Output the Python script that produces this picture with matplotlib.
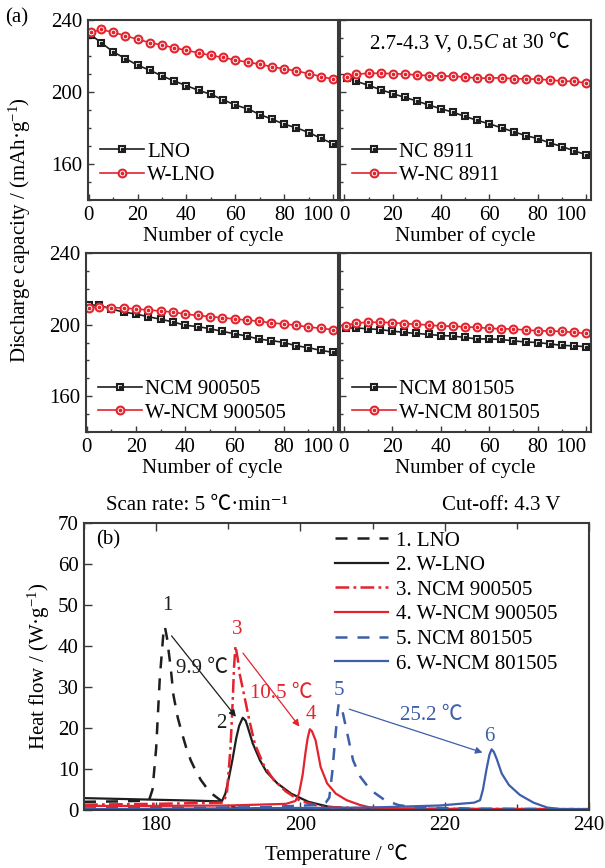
import matplotlib
matplotlib.use('Agg')
import matplotlib.pyplot as plt
from matplotlib.ticker import MultipleLocator
from matplotlib.legend_handler import HandlerTuple

FAM = ['Liberation Serif', 'Noto Sans CJK SC', 'DejaVu Serif']
plt.rcParams['font.family'] = FAM
plt.rcParams['mathtext.fontset'] = 'custom'
plt.rcParams['mathtext.rm'] = 'Liberation Serif'
plt.rcParams['mathtext.it'] = 'Liberation Serif:italic'

# ---------------- data: cycling (a) ----------------
cycles = [1, 5, 10, 15, 20, 25, 30, 35, 40, 45, 50, 55, 60, 65, 70, 75, 80, 85, 90, 95, 100]
lno = [231.6, 227.5, 222.3, 218.6, 214.9, 212.1, 208.9, 206.1, 203.5, 200.9, 198.7,
       195.7, 192.7, 190.7, 187.5, 184.9, 182.1, 180.1, 177.5, 174.3, 171.2]
w_lno = [233.1, 234.8, 233.1, 231.3, 229.2, 227.5, 226.0, 224.6, 223.1, 221.8, 220.3,
         219.2, 217.7, 216.6, 215.4, 214.0, 212.8, 211.7, 210.2, 208.6, 207.1]
nc8911 = [208.0, 205.9, 203.7, 201.3, 199.1, 197.0, 195.0, 192.7, 190.7, 188.7, 186.4,
          184.2, 182.3, 180.1, 177.9, 175.8, 174.1, 171.7, 169.7, 167.3, 165.2]
w_nc8911 = [208.4, 209.9, 210.4, 210.4, 210.2, 209.9, 209.5, 209.1, 208.9, 208.7, 208.4,
            207.6, 207.8, 207.8, 207.4, 207.3, 207.1, 206.7, 206.1, 205.9, 205.0]
ncm900505 = [211.0, 210.8, 208.7, 207.0, 205.9, 204.4, 203.0, 201.5, 199.6, 198.9, 197.7,
             196.2, 194.9, 193.6, 191.8, 191.1, 190.0, 188.2, 187.1, 185.6, 184.5]
w_ncm900505 = [209.5, 209.9, 209.5, 209.3, 208.7, 208.2, 207.6, 207.0, 205.9, 205.1, 204.5,
               203.8, 203.2, 202.5, 201.9, 200.9, 200.4, 199.6, 198.7, 197.9, 197.2]
ncm801505 = [198.1, 198.1, 197.7, 197.2, 196.4, 195.6, 195.1, 194.5, 193.9, 193.6, 192.8,
             192.0, 192.0, 191.7, 190.9, 190.3, 190.0, 189.2, 188.4, 188.1, 187.7]
w_ncm801505 = [199.4, 200.9, 201.3, 201.3, 201.1, 200.6, 200.2, 199.8, 199.2, 199.1, 198.7,
               198.5, 197.9, 197.7, 197.5, 197.0, 196.6, 196.4, 196.2, 195.6, 195.1]
cycle_ticks = [0, 20, 40, 60, 80, 100]
cap_ticks = [160, 200, 240]

# ---------------- data: DSC (b) ----------------
t1 = [170, 175, 179, 179.5, 180.0, 180.5, 181.0, 181.2, 181.5, 182.0, 182.4, 183.0, 183.6,
      184.2, 184.8, 185.5, 186.2, 187.0, 187.7, 188.9, 189.8, 191, 195, 200, 210, 220, 230, 240]
h1 = [2.0, 2.1, 2.3, 5, 15, 32, 43, 44.8, 42, 35, 28, 22.5, 18.6, 15, 12.1, 9.5, 7.3, 5.4,
      4.0, 2.4, 1.5, 0.5, 0.3, 0.3, 0.3, 0.2, 0.2, 0.2]
t2 = [170, 175, 180, 185, 189.1, 189.6, 190.1, 190.6, 191.1, 191.5, 192.0, 192.4, 192.7,
      193.4, 194.4, 195.3, 196.8, 198.7, 201.1, 203.9, 207.3, 215, 240]
h2 = [2.9, 2.7, 2.5, 2.3, 2.1, 4.0, 8.0, 12.5, 17.5, 20.5, 22.5, 21.8, 20.2, 16.2, 12.1,
      9.3, 6.5, 4.0, 2.0, 0.8, 0.3, 0.2, 0.2]
t3 = [170, 180, 189.3, 189.8, 190.3, 190.6, 190.8, 191.0, 191.3, 191.6, 192.2, 192.9, 193.7,
      194.9, 196.3, 198, 200, 203, 210, 240]
h3 = [1.3, 1.5, 1.8, 4, 15, 26, 35, 40, 37, 33, 28, 22, 16, 11, 7.3, 4.5, 2.2, 0.8, 0.3, 0.2]
t4 = [170, 180, 190, 198, 199.3, 199.8, 200.3, 200.7, 201.0, 201.3, 201.6, 202.1, 202.8,
      203.7, 204.9, 206.4, 208.3, 209.7, 215, 240]
h4 = [1.0, 1.0, 1.1, 1.5, 2.2, 4, 8.5, 14, 17.5, 19.7, 19.2, 17, 10.5, 6.5, 4.0, 2.4, 1.2,
      0.6, 0.3, 0.2]
t5 = [170, 185, 195, 202, 203.5, 204.0, 204.4, 204.8, 205.1, 205.3, 205.6, 205.9, 206.6,
      207.3, 208.3, 209.7, 211.7, 213.6, 216.0, 225, 240]
h5 = [0.4, 0.5, 0.7, 1.2, 1.8, 3, 9, 17, 23, 25.9, 25.2, 23.5, 17.8, 12.1, 8.1, 4.9, 2.4,
      1.2, 0.6, 0.3, 0.2]
t6 = [170, 190, 209.7, 219.3, 224.1, 224.9, 225.3, 225.8, 226.2, 226.5, 226.8, 227.2, 227.9,
      228.9, 230.4, 232.3, 234.2, 236.1, 240]
h6 = [0.2, 0.4, 0.6, 1.1, 1.8, 2.4, 5, 10, 13.5, 14.8, 14.2, 12.5, 8.9, 6.1, 3.7, 1.8, 0.6,
      0.2, 0.2]
dsc_labels = ['1. LNO', '2. W-LNO', '3. NCM 900505', '4. W-NCM 900505',
              '5. NCM 801505', '6. W-NCM 801505']
temp_ticks = [180, 200, 220, 240]
hf_ticks = [0, 10, 20, 30, 40, 50, 60, 70]

BLACK = '#1e1e1e'
RED = '#e3232d'
BLUE = '#3d5ea9'
SPINE = '#3a3a3a'
FS = 15

W, H = 605, 868
fig = plt.figure(figsize=(W / 100, H / 100), dpi=100)


def rect(x0, y0, x1, y1):
    return [x0 / W, 1 - y1 / H, (x1 - x0) / W, (y1 - y0) / H]


def style_axes(ax, major=4, minor=2.5):
    for s in ax.spines.values():
        s.set_color(SPINE)
        s.set_linewidth(1.5)
    ax.tick_params(direction='in', labelsize=FS, length=major, width=1.0, colors=SPINE,
                   labelcolor='black', pad=4)
    ax.tick_params(which='minor', direction='in', length=minor, width=1.0, colors=SPINE)


def cycle_panel(rc, base, wv, lb, lw_, show_y, xl, leg_y):
    ax = fig.add_axes(rect(*rc))
    l1, = ax.plot(cycles, base, '-', color=BLACK, lw=1.2, marker='s', ms=5.0,
                  mfc='white', mec=BLACK, mew=1.5)
    d1, = ax.plot(cycles, base, ls='none', marker='s', ms=1.5, color=BLACK)
    l2, = ax.plot(cycles, wv, '-', color=RED, lw=1.2, marker='o', ms=5.6,
                  mfc='white', mec=RED, mew=1.5)
    d2, = ax.plot(cycles, wv, ls='none', marker='o', ms=1.7, color=RED)
    ax.set_xlim(*xl)
    ax.set_ylim(140, 240)
    ax.set_xticks(cycle_ticks)
    ax.set_yticks(cap_ticks)
    ax.yaxis.set_minor_locator(MultipleLocator(10))
    ax.xaxis.set_minor_locator(MultipleLocator(10))
    style_axes(ax)
    if not show_y:
        ax.set_yticklabels([])
    ax.xaxis.get_major_ticks()[-1].label1.set_horizontalalignment('right')
    ax.set_xlabel('Number of cycle', fontsize=FS, labelpad=1)
    ax.legend([(l1, d1), (l2, d2)], [lb, lw_], handler_map={tuple: HandlerTuple(ndivide=1)},
              loc='lower left', bbox_to_anchor=(-0.01, leg_y), frameon=False, fontsize=FS,
              handlelength=2.1, handletextpad=0.15, labelspacing=0.2, borderaxespad=0.3)
    return ax


ax1 = cycle_panel((88, 20, 338, 200), lno, w_lno, 'LNO', 'W-LNO', True, (-0.3, 102), 0.0)
ax2 = cycle_panel((340, 20, 591, 200), nc8911, w_nc8911, 'NC 8911', 'W-NC 8911', False, (-1.8, 102), 0.0)
ax3 = cycle_panel((86, 253, 338, 432), ncm900505, w_ncm900505, 'NCM 900505', 'W-NCM 900505', True, (-0.3, 102), -0.03)
ax4 = cycle_panel((340, 253, 591, 432), ncm801505, w_ncm801505, 'NCM 801505', 'W-NCM 801505', False, (-1.5, 102), -0.03)

# condition text with italic C
tt1 = ax2.text(0.12, 0.815, '2.7-4.3 V, 0.5', transform=ax2.transAxes, fontsize=FS, va='bottom', ha='left')
tt2 = ax2.annotate('C', xy=(1, 0), xycoords=tt1, fontsize=FS, style='italic', va='bottom', ha='left')
ax2.annotate(' at 30 \u2103', xy=(1, 0), xycoords=tt2, fontsize=FS, va='bottom', ha='left')

fig.text(5 / W, 1 - 18 / H, '(a)', fontsize=FS, va='center', ha='left')
fig.text(20 / W, 1 - 230 / H, 'Discharge capacity / (mAh\u00b7g$^{-1}$)', fontsize=FS,
         rotation=90, va='center', ha='center')

# ---------------- (b) DSC ----------------
axb = fig.add_axes(rect(84, 523, 589, 810))
axb.plot(t1, h1, color=BLACK, lw=1.8, dashes=(4.8, 4), label=dsc_labels[0])
axb.plot(t2, h2, color=BLACK, lw=1.6, label=dsc_labels[1])
axb.plot(t3, h3, color=RED, lw=1.8, dashes=(5.5, 1.7, 1.1, 1.7), label=dsc_labels[2])
axb.plot(t4, h4, color=RED, lw=1.6, label=dsc_labels[3])
axb.plot(t5, h5, color=BLUE, lw=1.8, dashes=(4.8, 4), label=dsc_labels[4])
axb.plot(t6, h6, color=BLUE, lw=1.6, label=dsc_labels[5])
axb.set_xlim(170, 240)
axb.set_ylim(0, 70)
axb.set_xticks(temp_ticks)
axb.set_yticks(hf_ticks)
axb.xaxis.set_minor_locator(MultipleLocator(10))
style_axes(axb, major=6, minor=4)
axb.tick_params(which='both', top=True)
axb.set_xlabel('Temperature / \u2103', fontsize=FS, labelpad=7)
axb.set_ylabel('Heat flow / (W\u00b7g$^{-1}$)', fontsize=FS, labelpad=4)
axb.legend(loc='upper left', bbox_to_anchor=(0.497, 0.972), frameon=False, fontsize=FS,
           handlelength=2.55, handletextpad=0.38, labelspacing=0.24, borderaxespad=0.0,
           borderpad=0.0)
axb.text(173.3, 65.9, '(b)', fontsize=FS, va='center', ha='center')

# peak labels and arrows
axb.text(181.5, 50.0, '1', fontsize=FS, color=BLACK, ha='center', va='center')
axb.text(189.05, 21.1, '2', fontsize=FS, color=BLACK, ha='center', va='center')
axb.text(191.3, 44.1, '3', fontsize=FS, color=RED, ha='center', va='center')
axb.text(201.4, 23.2, '4', fontsize=FS, color=RED, ha='center', va='center')
axb.text(205.4, 29.1, '5', fontsize=FS, color=BLUE, ha='center', va='center')
axb.text(226.2, 18.0, '6', fontsize=FS, color=BLUE, ha='center', va='center')
axb.annotate('', xy=(191.3, 22.2), xytext=(181.9, 43.0),
             arrowprops=dict(arrowstyle='-|>', color=BLACK, lw=0.9, mutation_scale=10))
axb.annotate('', xy=(200.1, 19.8), xytext=(191.8, 38.8),
             arrowprops=dict(arrowstyle='-|>', color=RED, lw=0.9, mutation_scale=10))
axb.annotate('', xy=(225.6, 13.8), xytext=(206.4, 24.8),
             arrowprops=dict(arrowstyle='-|>', color=BLUE, lw=0.9, mutation_scale=10))
axb.text(186.4, 34.5, '9.9 \u2103', fontsize=FS, color=BLACK, ha='center', va='center')
axb.text(197.3, 28.3, '10.5 \u2103', fontsize=FS, color=RED, ha='center', va='center')
axb.text(218.1, 23.1, '25.2 \u2103', fontsize=FS, color=BLUE, ha='center', va='center')

fig.text(197 / W, 1 - 505 / H, 'Scan rate: 5 \u2103\u00b7min\u207b\u00b9', fontsize=FS, ha='center', va='center')
fig.text(560 / W, 1 - 505 / H, 'Cut-off: 4.3 V', fontsize=FS, ha='right', va='center')

fig.savefig('out.png', dpi=100)
